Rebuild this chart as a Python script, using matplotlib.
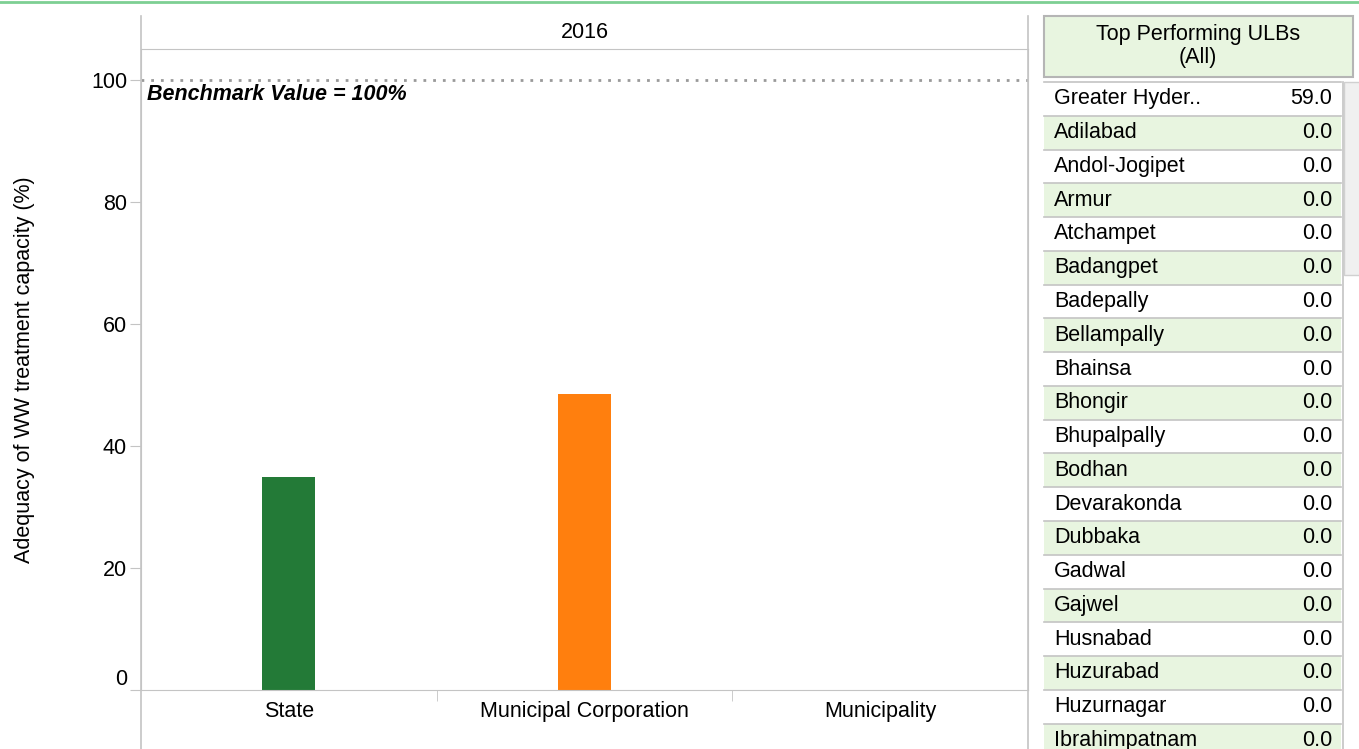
import numpy as np
import matplotlib.pyplot as plt
from matplotlib.patches import Rectangle
from matplotlib.lines import Line2D

plt.rcParams['font.family'] = ['Liberation Sans', 'DejaVu Sans']

year = '2016'
categories = ['State', 'Municipal Corporation', 'Municipality']
values = [35.0, 48.6, 0.0]
bar_colors = ['#237a37', '#ff7f0e', '#1f77b4']
benchmark = 100
yticks = [0, 20, 40, 60, 80, 100]

ulb_names = ['Greater Hyder..', 'Adilabad', 'Andol-Jogipet', 'Armur', 'Atchampet',
             'Badangpet', 'Badepally', 'Bellampally', 'Bhainsa', 'Bhongir',
             'Bhupalpally', 'Bodhan', 'Devarakonda', 'Dubbaka', 'Gadwal',
             'Gajwel', 'Husnabad', 'Huzurabad', 'Huzurnagar', 'Ibrahimpatnam']
ulb_values = [59.0] + [0.0] * 19

W, H = 1359, 749
fig = plt.figure(figsize=(W / 100, H / 100), dpi=100)
grey = '#c4c4c4'
green_fill = '#e8f5e0'
fs = 15.5

# main chart axes (pixel box: x 141-1028, y 49-690)
ax = fig.add_axes([141 / W, 1 - 690 / H, (1028 - 141) / W, (690 - 49) / H])
x = np.arange(len(categories))
ax.bar(x, values, width=0.18, color=bar_colors)
ax.set_xlim(-0.5, 2.5)
ax.set_ylim(0, (690 - 49) / 6.1)
ax.set_yticks(yticks)
ax.set_xticks(x)
ax.set_xticklabels(categories, fontsize=fs)
ax.set_xticks([0.5, 1.5], minor=True)
ax.tick_params(axis='x', which='major', length=0, pad=8)
ax.tick_params(axis='x', which='minor', length=8, color=grey)
ax.tick_params(axis='y', length=8, color=grey, labelsize=fs, pad=2)
# zero label sits just above the axis line
ax.get_yticklabels()[0].set_verticalalignment('bottom')
for s in ax.spines.values():
    s.set_color(grey)
ax.axhline(benchmark, color='#999999', lw=2, ls=(0, (1, 2.5)))
ax.text(-0.48, benchmark - 2.3, 'Benchmark Value = 100%', fontsize=fs,
        fontweight='bold', fontstyle='italic', va='center', ha='left')
ax.set_ylabel('Adequacy of WW treatment capacity (%)', fontsize=fs, labelpad=40)

# overlay in pixel coordinates
ov = fig.add_axes([0, 0, 1, 1], facecolor='none')
ov.set_xlim(0, W)
ov.set_ylim(H, 0)
ov.axis('off')

ov.add_line(Line2D([0, W], [2, 2], color='#7dcf93', lw=2))
ov.add_line(Line2D([141, 141], [16, H], color=grey, lw=1.2))
ov.add_line(Line2D([1028, 1028], [16, H], color=grey, lw=1.2))
ov.text(585, 33, year, fontsize=fs, ha='center', va='center')

# table header
ov.add_patch(Rectangle((1044, 16), 309, 61, facecolor=green_fill, edgecolor='#b5b5b5', lw=1.5))
ov.text(1198, 46, 'Top Performing ULBs\n(All)', fontsize=fs, ha='center', va='center',
        linespacing=1.1)

# table rows
row_h = 33.77
y0 = 82
for i, (name, val) in enumerate(zip(ulb_names, ulb_values)):
    top = y0 + i * row_h
    fc = 'white' if i % 2 == 0 else green_fill
    ov.add_patch(Rectangle((1044, top), 297, row_h, facecolor=fc, edgecolor='none'))
    ov.add_line(Line2D([1044, 1341], [top + row_h, top + row_h], color=grey, lw=1.2))
    ov.text(1054, top + row_h / 2, name, fontsize=fs, ha='left', va='center')
    ov.text(1332, top + row_h / 2, f'{val:.1f}', fontsize=fs, ha='right', va='center')
ov.add_line(Line2D([1044, 1341], [y0, y0], color=grey, lw=1.2))

# scrollbar
ov.add_line(Line2D([1343, 1343], [y0, H], color=grey, lw=1.2))
ov.add_patch(Rectangle((1344, y0), 16, 193, facecolor='#f0f0f0', edgecolor='#d0d0d0', lw=1))

fig.savefig('out.png', dpi=100)
